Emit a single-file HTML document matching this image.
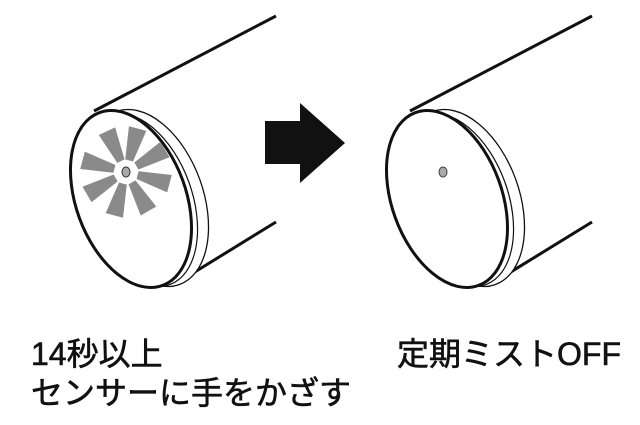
<!DOCTYPE html>
<html><head><meta charset="utf-8"><style>
body{margin:0;background:#fff;width:640px;height:425px;overflow:hidden;position:relative}
svg{position:absolute;left:0;top:0}
.t{position:absolute;font-family:"Liberation Sans","Noto Sans CJK JP",sans-serif;font-size:32px;font-weight:normal;-webkit-text-stroke:0.6px #111;color:#111;white-space:nowrap;line-height:1}
</style></head><body>
<svg width="640" height="425" viewBox="0 0 640 425">
<defs>
<g id="cyl">
<line x1="94" y1="111" x2="276" y2="16" stroke="#111" stroke-width="3"/>
<line x1="172" y1="286" x2="276" y2="222" stroke="#111" stroke-width="3"/>
<ellipse cx="148" cy="198" rx="55" ry="92" transform="rotate(-20 148 198)" fill="#fff" stroke="#111" stroke-width="1.3"/>
<ellipse cx="139" cy="200" rx="53" ry="90" transform="rotate(-20 139 200)" fill="#fff" stroke="#111" stroke-width="1.2"/>
<ellipse cx="131" cy="199" rx="55" ry="92" transform="rotate(-20 131 199)" fill="#fff" stroke="#111" stroke-width="3"/>
</g>
<polygon id="blade" points="-4,-12 4,-12 9,-45 -9,-45" fill="#8a8a8a"/>
</defs>
<use href="#cyl"/>
<use href="#cyl" x="316"/>
<g transform="translate(126,172)">
<use href="#blade" transform="rotate(-25)"/>
<use href="#blade" transform="rotate(15)"/>
<use href="#blade" transform="rotate(60)"/>
<use href="#blade" transform="rotate(105)"/>
<use href="#blade" transform="rotate(150)"/>
<use href="#blade" transform="rotate(195)"/>
<use href="#blade" transform="rotate(240)"/>
<use href="#blade" transform="rotate(285)"/>
<ellipse cx="0" cy="0" rx="4" ry="5" fill="#aaa" stroke="#333" stroke-width="1"/>
</g>
<ellipse cx="443" cy="172" rx="4" ry="5" fill="#aaa" stroke="#444" stroke-width="1"/>
<polygon points="265,121 300,121 300,103 345,143 300,183 300,164 265,164" fill="#111"/>
</svg>
<div class="t" style="left:31px;top:338px">14秒以上</div>
<div class="t" style="left:31px;top:377px">センサーに手をかざす</div>
<div class="t" style="left:397px;top:338px">定期ミストOFF</div>
</body></html>
